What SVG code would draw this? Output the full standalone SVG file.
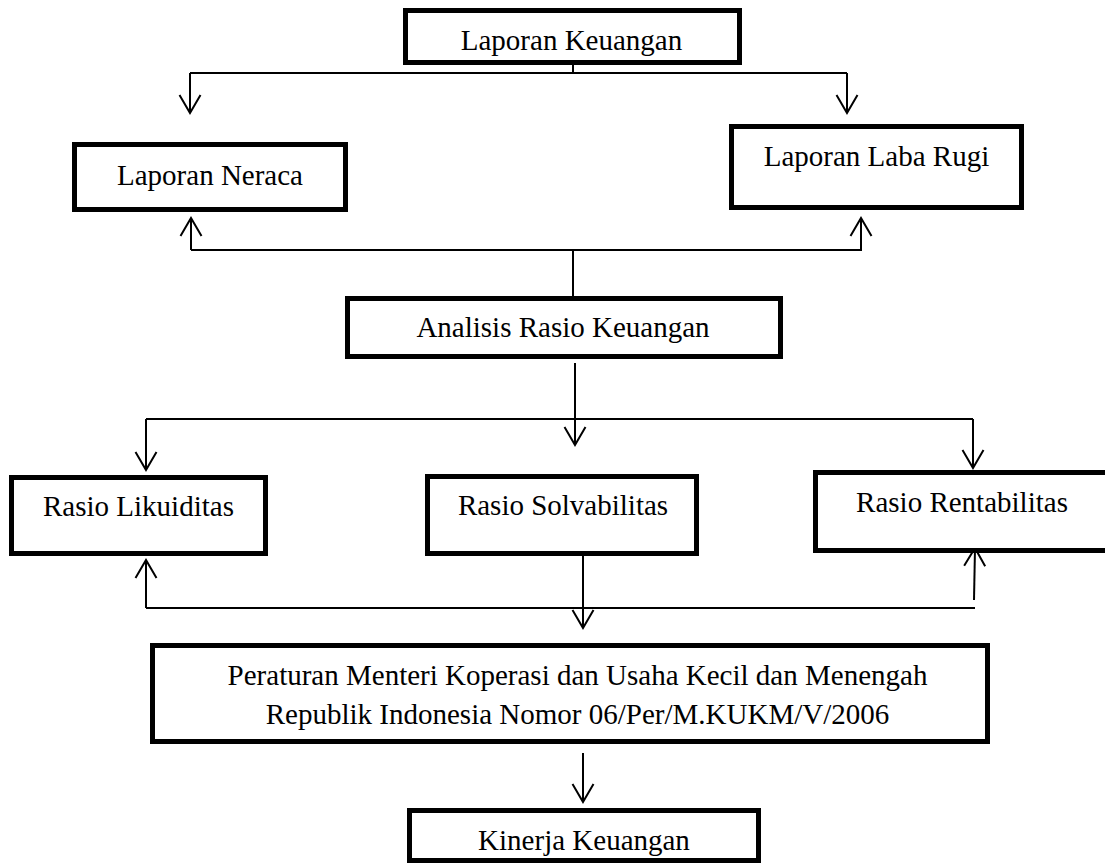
<svg xmlns="http://www.w3.org/2000/svg" width="1105" height="866" viewBox="0 0 1105 866">
<defs>
<style>
.box{fill:#fff;stroke:#000;stroke-width:5}
.t{font-family:"Liberation Serif","Times New Roman",serif;font-size:29px;fill:#000;text-anchor:middle}
.ln{fill:none;stroke:#000;stroke-width:2}
</style>
<marker id="ah" viewBox="-20 -12 22 24" markerWidth="22" markerHeight="24" refX="0" refY="0" orient="auto" markerUnits="userSpaceOnUse">
<path d="M-18,-10.5 L0,0 L-18,10.5" fill="none" stroke="#000" stroke-width="2"/>
</marker>
</defs>
<rect width="1105" height="866" fill="#fff"/>
<g id="connectors">
<path class="ln" d="M573,65 V73 M190,73 H847"/>
<path class="ln" d="M190,73 V113" marker-end="url(#ah)"/>
<path class="ln" d="M847,73 V113" marker-end="url(#ah)"/>
<path class="ln" d="M191,250 H862 M573,250 V296"/>
<path class="ln" d="M191,250 V218" marker-end="url(#ah)"/>
<path class="ln" d="M861,250 V218" marker-end="url(#ah)"/>
<path class="ln" d="M575,363 V445" marker-end="url(#ah)"/>
<path class="ln" d="M146,419 H973"/>
<path class="ln" d="M146,419 V470" marker-end="url(#ah)"/>
<path class="ln" d="M973,419 V468" marker-end="url(#ah)"/>
<path class="ln" d="M146,608 H975"/>
<path class="ln" d="M146,608 V560" marker-end="url(#ah)"/>
<path class="ln" d="M974,600 L975,548" marker-end="url(#ah)"/>
<path class="ln" d="M583,552 V628" marker-end="url(#ah)"/>
<path class="ln" d="M583,753 V802" marker-end="url(#ah)"/>
</g>
<g id="n-keuangan"><rect class="box" x="405.5" y="10.5" width="334" height="52"/><text class="t" x="571.5" y="50">Laporan Keuangan</text></g>
<g id="n-neraca"><rect class="box" x="74.5" y="144.5" width="271" height="65"/><text class="t" x="210" y="185">Laporan Neraca</text></g>
<g id="n-labarugi"><rect class="box" x="731.5" y="126.5" width="290" height="81"/><text class="t" x="876.5" y="166">Laporan Laba Rugi</text></g>
<g id="n-analisis"><rect class="box" x="347.5" y="298.5" width="433" height="58"/><text class="t" x="563" y="337">Analisis Rasio Keuangan</text></g>
<g id="n-likuiditas"><rect class="box" x="11.5" y="477.5" width="254" height="76"/><text class="t" x="138.5" y="516">Rasio Likuiditas</text></g>
<g id="n-solvabilitas"><rect class="box" x="427.5" y="476.5" width="269" height="77"/><text class="t" x="563" y="515">Rasio Solvabilitas</text></g>
<g id="n-rentabilitas"><rect class="box" x="815.5" y="472.5" width="300" height="78"/><text class="t" x="962" y="512">Rasio Rentabilitas</text></g>
<g id="n-peraturan"><rect class="box" x="152.5" y="645.5" width="835" height="96"/><text class="t" x="577.5" y="685">Peraturan Menteri Koperasi dan Usaha Kecil dan Menengah</text><text class="t" x="577.5" y="724">Republik Indonesia Nomor 06/Per/M.KUKM/V/2006</text></g>
<g id="n-kinerja"><rect class="box" x="409.5" y="810.5" width="349" height="50"/><text class="t" x="584" y="850">Kinerja Keuangan</text></g>
</svg>
